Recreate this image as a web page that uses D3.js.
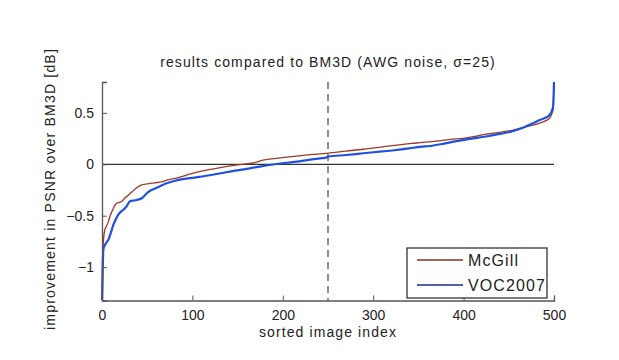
<!DOCTYPE html>
<html><head><meta charset="utf-8">
<script src="https://cdn.jsdelivr.net/npm/d3@7"></script>
<style>
body{margin:0;background:#fff;}
text{font-family:"Liberation Sans",Arial,Helvetica,sans-serif;}
</style></head>
<body><svg id="c" width="619" height="360"></svg>
<script>
const title = "results compared to BM3D (AWG noise, σ=25)";
const xLabel = "sorted image index";
const yLabel = "improvement in PSNR over BM3D [dB]";
const xTicks = [0,100,200,300,400,500];
const yTicks = [-1,-0.5,0,0.5];
const seriesNames = ["McGill","VOC2007"];

const mcgillIdx = [0,0.5,1,2,3,5,7,9,11,13,16,19,22,25,29,33,38,44,50,58,66,74,81,92,103,120,140,155,169,178,195,215,230,248,270,289,310,326,340,352,370,385,400,412,425,440,455,467,477,484,490,494,496,498,499,500];
const mcgillVal = [-1.3,-0.95,-0.83,-0.7,-0.64,-0.6,-0.56,-0.5,-0.46,-0.42,-0.38,-0.37,-0.36,-0.33,-0.30,-0.27,-0.23,-0.20,-0.19,-0.18,-0.17,-0.15,-0.136,-0.11,-0.08,-0.05,-0.017,0.0,0.016,0.04,0.06,0.08,0.093,0.107,0.128,0.146,0.17,0.187,0.2,0.21,0.225,0.243,0.252,0.27,0.294,0.31,0.333,0.36,0.38,0.4,0.42,0.44,0.46,0.5,0.53,0.80];
const vocIdx = [0,0.5,1,1.5,3,5,7,10,12.5,15,18,21,24,27,31,37,44,51,60,70,81,97,114,130,147,160,169,178,195,215,230,241,247,250,270,289,310,326,340,352,363,375,389,405,425,440,455,467,477,484,490,494,496,498,499,500];
const vocVal = [-1.32,-1.19,-0.95,-0.83,-0.79,-0.76,-0.735,-0.66,-0.59,-0.54,-0.49,-0.46,-0.44,-0.41,-0.36,-0.35,-0.33,-0.27,-0.23,-0.19,-0.16,-0.135,-0.114,-0.09,-0.062,-0.045,-0.03,-0.017,0.005,0.025,0.045,0.058,0.063,0.074,0.09,0.107,0.125,0.139,0.155,0.17,0.178,0.195,0.22,0.245,0.27,0.295,0.323,0.36,0.40,0.43,0.45,0.47,0.49,0.53,0.56,0.80];

const svg = d3.select("#c");
const L=102, R=554, T=82, B=300.5;
const x = d3.scaleLinear().domain([0,500]).range([L,R]);
const y = d3.scaleLinear().domain([-1.3245,0.8]).range([B,T]);

// zero line
svg.append("line").attr("x1",x(0)).attr("x2",x(500)).attr("y1",y(0)).attr("y2",y(0))
  .attr("stroke","#333").attr("stroke-width",1.2);
// dashed vertical at 250
svg.append("line").attr("x1",x(250)).attr("x2",x(250)).attr("y1",T).attr("y2",B)
  .attr("stroke","#555").attr("stroke-width",1.3).attr("stroke-dasharray","7,5");

const line = d3.line().curve(d3.curveMonotoneX).x(d=>x(d[0])).y(d=>y(d[1]));
const mData = mcgillIdx.map((v,i)=>[v,mcgillVal[i]]);
const vData = vocIdx.map((v,i)=>[v,vocVal[i]]);
svg.append("path").datum(mData).attr("d",line).attr("fill","none")
  .attr("stroke","#9c3a25").attr("stroke-width",1.3);
svg.append("path").datum(vData).attr("d",line).attr("fill","none")
  .attr("stroke","#1f50e0").attr("stroke-width",2.2);

// axes (MATLAB style: ticks inward)
const xa = svg.append("g").attr("transform",`translate(0,${B})`)
  .call(d3.axisBottom(x).tickValues(xTicks).tickSize(-5).tickPadding(8).tickFormat(d3.format("d")));
const ya = svg.append("g").attr("transform",`translate(${L},0)`)
  .call(d3.axisLeft(y).tickValues(yTicks).tickSize(-5).tickPadding(8)
    .tickFormat(d=> d===0 ? "0" : (d<0 ? "\u2212"+Math.abs(d) : ""+d)));
[xa,ya].forEach(a=>{
  a.select(".domain").attr("stroke","#555").attr("stroke-width",1.3);
  a.selectAll(".tick line").attr("stroke","#555");
  a.selectAll("text").attr("font-size",14).attr("fill","#222")
   .attr("font-family","'Liberation Sans',Arial,sans-serif");
});
xa.selectAll("text").attr("dy","0.85em");

// title & labels
svg.append("text").attr("x",328).attr("y",67).attr("text-anchor","middle")
  .attr("font-size",14).attr("letter-spacing",1.1).attr("fill","#222").text(title);
svg.append("text").attr("x",328).attr("y",337).attr("text-anchor","middle")
  .attr("font-size",14).attr("letter-spacing",1.1).attr("fill","#222").text(xLabel);
svg.append("text").attr("transform","translate(55,189) rotate(-90)").attr("text-anchor","middle")
  .attr("font-size",14).attr("letter-spacing",1.2).attr("fill","#222").text(yLabel);

// legend
const lg = svg.append("g");
lg.append("rect").attr("x",407).attr("y",248).attr("width",140).attr("height",50)
  .attr("fill","#fff").attr("stroke","#222").attr("stroke-width",1.2);
const legCol = ["#8b2e1e","#1a2a86"];
seriesNames.forEach((n,i)=>{
  const yy = 260 + i*25;
  lg.append("line").attr("x1",417).attr("x2",463).attr("y1",yy).attr("y2",yy)
    .attr("stroke",legCol[i]).attr("stroke-width",1.3);
  lg.append("text").attr("x",468).attr("y",yy+5.5).attr("font-size",16)
    .attr("letter-spacing",1.1).attr("fill","#222").text(n);
});
</script></body></html>
